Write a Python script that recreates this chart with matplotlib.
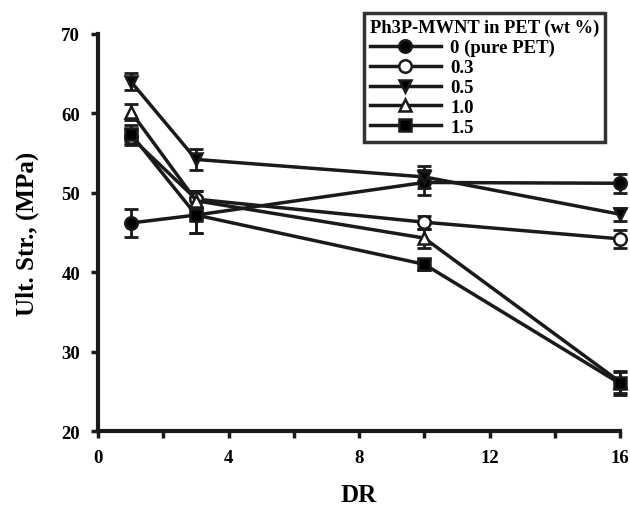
import numpy as np
import matplotlib.pyplot as plt
from matplotlib.ticker import MultipleLocator

plt.rcParams['font.family'] = ['Liberation Serif', 'DejaVu Serif']
plt.rcParams['font.weight'] = 'bold'

dr = [1, 3, 10, 16]
labels = ["0 (pure PET)", "0.3", "0.5", "1.0", "1.5"]
s_0 = [46.2, 47.2, 51.3, 51.2]
s_03 = [57.0, 49.2, 46.3, 44.2]
s_05 = [64.0, 54.2, 52.0, 47.3]
s_10 = [60.2, 49.0, 44.3, 26.2]
s_15 = [57.4, 47.2, 41.0, 26.0]
e_0 = [1.8, 2.2, 1.6, 1.2]
e_03 = [1.0, 1.0, 0.8, 1.1]
e_05 = [1.1, 1.3, 1.4, 0.8]
e_10 = [1.0, 1.2, 1.2, 1.4]
e_15 = [1.1, 2.3, 0.7, 1.5]

series = [s_0, s_03, s_05, s_10, s_15]
errs = [e_0, e_03, e_05, e_10, e_15]
markers = ['o', 'o', 'v', '^', 's']
faces = ['black', 'white', 'black', 'white', 'black']

fig = plt.figure(figsize=(6.3, 5.06), dpi=100)
ax = fig.add_axes([0.156, 0.146, 0.828, 0.785])

handles = []
for y, e, m, fc, lab in zip(series, errs, markers, faces, labels):
    ax.errorbar(dr, y, yerr=e, fmt='none', ecolor='#1a1a1a', elinewidth=2,
                capsize=5, capthick=2, clip_on=False, zorder=3)
    h, = ax.plot(dr, y, color='#1a1a1a', lw=2.5, marker=m, ms=9,
                 mfc=fc, mec='#1a1a1a', mew=1.8, clip_on=False, label=lab, zorder=4)
    handles.append(h)

ax.set_xlim(0, 16)
ax.set_ylim(20, 70)
ax.xaxis.set_major_locator(MultipleLocator(4))
ax.xaxis.set_minor_locator(MultipleLocator(2))
ax.yaxis.set_major_locator(MultipleLocator(10))
for sp in ['top', 'right']:
    ax.spines[sp].set_visible(False)
for sp in ['left', 'bottom']:
    ax.spines[sp].set_linewidth(3)
    ax.spines[sp].set_color('#1a1a1a')
ax.tick_params(which='both', direction='out', width=2.5, length=5,
               color='#1a1a1a', labelsize=13.5, pad=8)
ax.tick_params(which='minor', length=5)

ax.set_xlabel("DR", fontsize=18, fontweight='bold', labelpad=12)
ax.set_ylabel("Ult. Str., (MPa)", fontsize=18, fontweight='bold', labelpad=16)

leg = fig.legend(handles=handles, title="Ph3P-MWNT in PET (wt %)",
                 loc='upper left', bbox_to_anchor=(0.578, 0.972), borderaxespad=0,
                 fontsize=13.5, title_fontproperties={'weight': 'bold', 'size': 13.3},
                 frameon=True, fancybox=False, edgecolor='black',
                 handlelength=3.8, handletextpad=0.5, labelspacing=0.15,
                 borderpad=0.3, alignment='left', markerfirst=True)
leg.get_frame().set_linewidth(2.5)
for t in leg.get_texts():
    t.set_fontweight('bold')

fig.savefig("out.png", dpi=100)
